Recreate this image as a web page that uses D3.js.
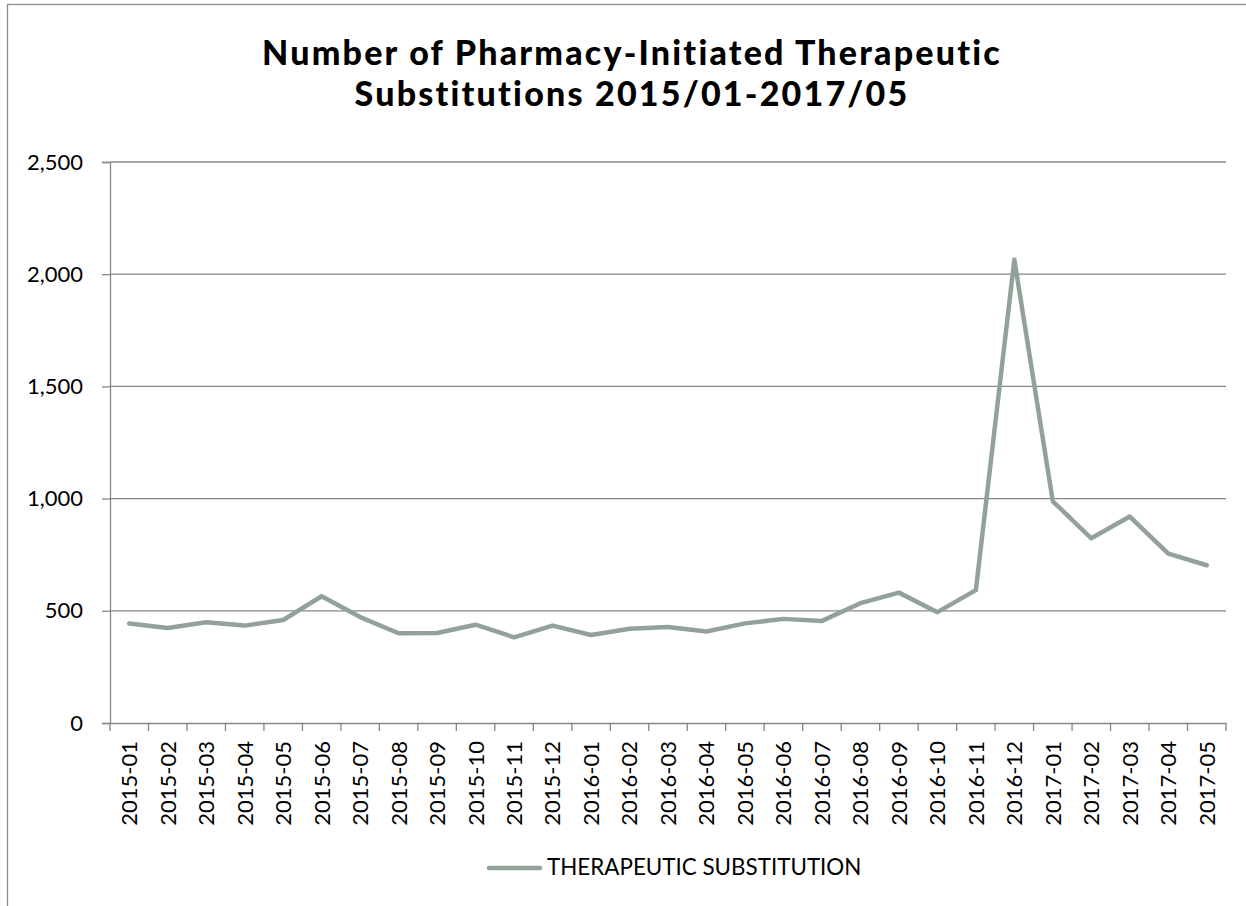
<!DOCTYPE html>
<html>
<head>
<meta charset="utf-8">
<script src="https://cdn.jsdelivr.net/npm/d3@7"></script>
<style>
  html, body { margin: 0; padding: 0; background: #fff; }
  svg { display: block; }
  text { font-family: Lato, "Open Sans", sans-serif; fill: #000; }
</style>
</head>
<body>
<svg id="chart" width="1246" height="906"></svg>
<script>
const titleLines = ["Number of Pharmacy-Initiated Therapeutic", "Substitutions 2015/01-2017/05"];
const seriesName = "THERAPEUTIC SUBSTITUTION";
const categories = [
  "2015-01","2015-02","2015-03","2015-04","2015-05","2015-06","2015-07","2015-08","2015-09","2015-10","2015-11","2015-12",
  "2016-01","2016-02","2016-03","2016-04","2016-05","2016-06","2016-07","2016-08","2016-09","2016-10","2016-11","2016-12",
  "2017-01","2017-02","2017-03","2017-04","2017-05"
];
const values = [
  443, 423, 449, 434, 459, 565, 472, 400, 401, 438, 382, 434,
  392, 420, 428, 408, 444, 464, 455, 534, 581, 494, 592, 2065,
  988, 823, 920, 755, 703
];
const yTicks = [0, 500, 1000, 1500, 2000, 2500];

const svg = d3.select("#chart");
const W = 1246, H = 906;
const plot = { left: 110, right: 1226, top: 162, bottom: 723 };
const lineColor = "#93a299";
const axisColor = "#878787";

// outer chart border (extends beyond the visible area on right/bottom)
svg.append("rect")
  .attr("x", 7.5).attr("y", 4.5)
  .attr("width", W + 40).attr("height", H + 40)
  .attr("fill", "none").attr("stroke", "#8c8c8c").attr("stroke-width", 1.3);

const x = d3.scaleBand().domain(categories).range([plot.left, plot.right]).padding(0);
const y = d3.scaleLinear().domain([0, 2500]).range([plot.bottom, plot.top]);

// gridlines
svg.append("g").selectAll("line")
  .data(yTicks.filter(d => d > 0))
  .join("line")
  .attr("x1", plot.left).attr("x2", plot.right)
  .attr("y1", d => y(d)).attr("y2", d => y(d))
  .attr("stroke", axisColor).attr("stroke-width", 1.3);

// y axis
const yAxis = d3.axisLeft(y).tickValues(yTicks).tickSize(8).tickPadding(19)
  .tickFormat(d3.format(","));
const gy = svg.append("g").attr("transform", `translate(${plot.left},0)`).call(yAxis);
gy.select(".domain").attr("stroke", axisColor).attr("stroke-width", 1.3);
gy.selectAll(".tick line").attr("stroke", axisColor).attr("stroke-width", 1.3);
gy.selectAll(".tick text").style("font-family", "Lato, sans-serif").style("font-size", "22px").attr("fill", "#000");

// x axis
const xAxis = d3.axisBottom(x).tickSize(0).tickPadding(0);
const gx = svg.append("g").attr("transform", `translate(0,${plot.bottom})`).call(xAxis);
gx.select(".domain").attr("stroke", axisColor).attr("stroke-width", 1.3);
gx.selectAll(".tick line").remove();
gx.selectAll(".tick text")
  .style("font-family", "Lato, sans-serif").style("font-size", "22px").attr("fill", "#000")
  .attr("text-anchor", "end")
  .attr("transform", "translate(0,18) rotate(-90)")
  .attr("x", 0).attr("y", 0).attr("dy", "0.36em");
// band boundary tick marks
const bounds = categories.map(c => x(c)).concat([plot.right]);
gx.append("g").selectAll("line").data(bounds).join("line")
  .attr("x1", d => d).attr("x2", d => d)
  .attr("y1", 0).attr("y2", 8)
  .attr("stroke", axisColor).attr("stroke-width", 1.3);

// line
const line = d3.line()
  .x((d, i) => x(categories[i]) + x.bandwidth() / 2)
  .y(d => y(d));
svg.append("path").datum(values)
  .attr("d", line)
  .attr("fill", "none").attr("stroke", lineColor)
  .attr("stroke-width", 4.5).attr("stroke-linejoin", "round").attr("stroke-linecap", "round");

// title
const title = svg.append("g");
const tBase = [65, 106];
const titleFont = "Lato, sans-serif";
const tfs = 34;
const t1 = title.append("text").text(titleLines[0])
  .attr("x", 632).attr("y", tBase[0]).attr("text-anchor", "middle")
  .style("font-family", titleFont).style("font-weight", "900").style("font-size", tfs + "px");
const w1 = t1.node().getComputedTextLength();
const ls = Math.max(0, Math.min(2.2, (757 - w1) / (titleLines[0].length - 1)));
t1.style("letter-spacing", ls + "px");
title.append("text").text(titleLines[1])
  .attr("x", 632).attr("y", tBase[1]).attr("text-anchor", "middle")
  .style("font-family", titleFont).style("font-weight", "900").style("font-size", tfs + "px")
  .style("letter-spacing", ls + "px");

// legend
const leg = svg.append("g");
leg.append("line").attr("x1", 489).attr("x2", 540).attr("y1", 868).attr("y2", 868)
  .attr("stroke", lineColor).attr("stroke-width", 4.5).attr("stroke-linecap", "round");
leg.append("text").text(seriesName).attr("x", 547).attr("y", 875)
  .style("font-family", "Lato, sans-serif").style("font-size", "22.4px");
</script>
</body>
</html>
